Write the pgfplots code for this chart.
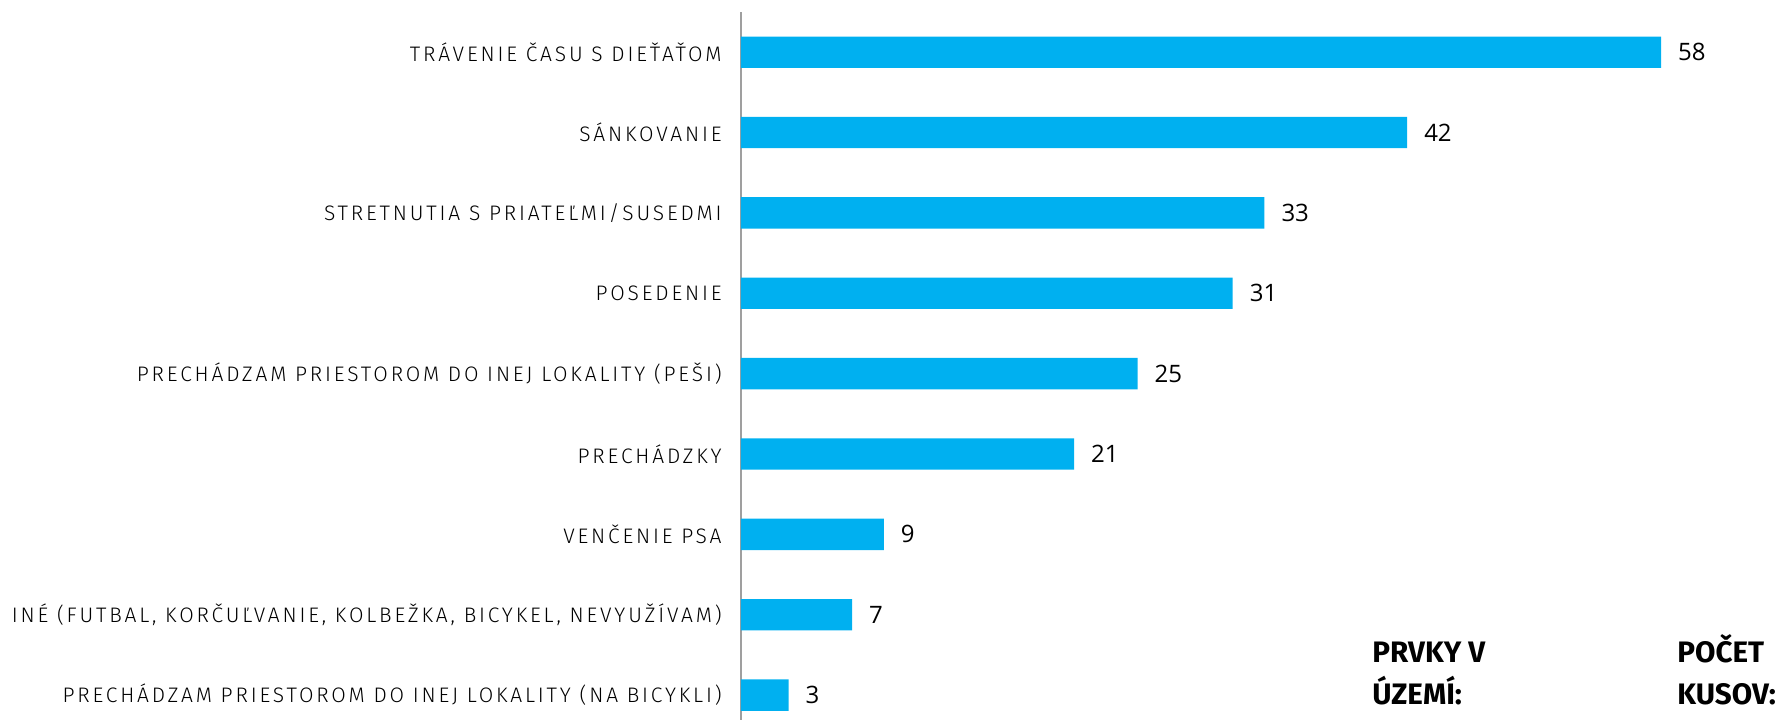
\documentclass[border=0pt]{standalone}
\usepackage{fontspec}
\setmainfont{Open Sans}
\newfontfamily\labelfont[LetterSpace=13.5]{Fira Sans Light}
\newfontfamily\headfont{Fira Sans Bold}
\usepackage{pgfplots}
\pgfplotsset{compat=1.18}
\definecolor{barblue}{HTML}{00B0F0}

\begin{document}
\begin{tikzpicture}
  \begin{axis}[
    xbar,
    scale only axis,
    width=519.5bp, height=354bp,
    xmin=0, xmax=65.5,
    ymin=-0.31, ymax=8.5,
    bar width=0.39,
    hide x axis,
    axis y line*=left,
    y axis line style={draw=gray!75, line width=0.9bp},
    major tick length=0,
    ytick={0,...,8},
    yticklabels={
      PRECHÁDZAM PRIESTOROM DO INEJ LOKALITY (NA BICYKLI),
      {INÉ (FUTBAL, KORČUĽVANIE, KOLBEŽKA, BICYKEL, NEVYUŽÍVAM)},
      VENČENIE PSA,
      PRECHÁDZKY,
      PRECHÁDZAM PRIESTOROM DO INEJ LOKALITY (PEŠI),
      POSEDENIE,
      STRETNUTIA S PRIATEĽMI/SUSEDMI,
      SÁNKOVANIE,
      TRÁVENIE ČASU S DIEŤAŤOM},
    yticklabel style={font=\labelfont\fontsize{10.5bp}{12bp}\selectfont,
      inner sep=0pt, anchor=east, xshift=-9.5bp},
    nodes near coords,
    nodes near coords style={font=\fontsize{12bp}{14bp}\selectfont, anchor=west, xshift=5bp,
      /pgf/number format/assume math mode=true},
    clip=false,
  ]
    \addplot[fill=barblue, draw=none] coordinates {
      (3,0) (7,1) (9,2) (21,3) (25,4) (31,5) (33,6) (42,7) (58,8)
    };
  \end{axis}
  % headings at the lower right
  \node[anchor=south west, align=left, inner sep=0pt, font=\headfont\fontsize{14.8bp}{21bp}\selectfont]
    at (315.5bp,7.5bp) {PRVKY V\\ÚZEMÍ:};
  \node[anchor=south west, align=left, inner sep=0pt, font=\headfont\fontsize{14.8bp}{21bp}\selectfont]
    at (468bp,7.5bp) {POČET\\KUSOV:};
  \pgfresetboundingbox
  \useasboundingbox (-370.5bp,0) rectangle (519.5bp,360bp);
\end{tikzpicture}
\end{document}
